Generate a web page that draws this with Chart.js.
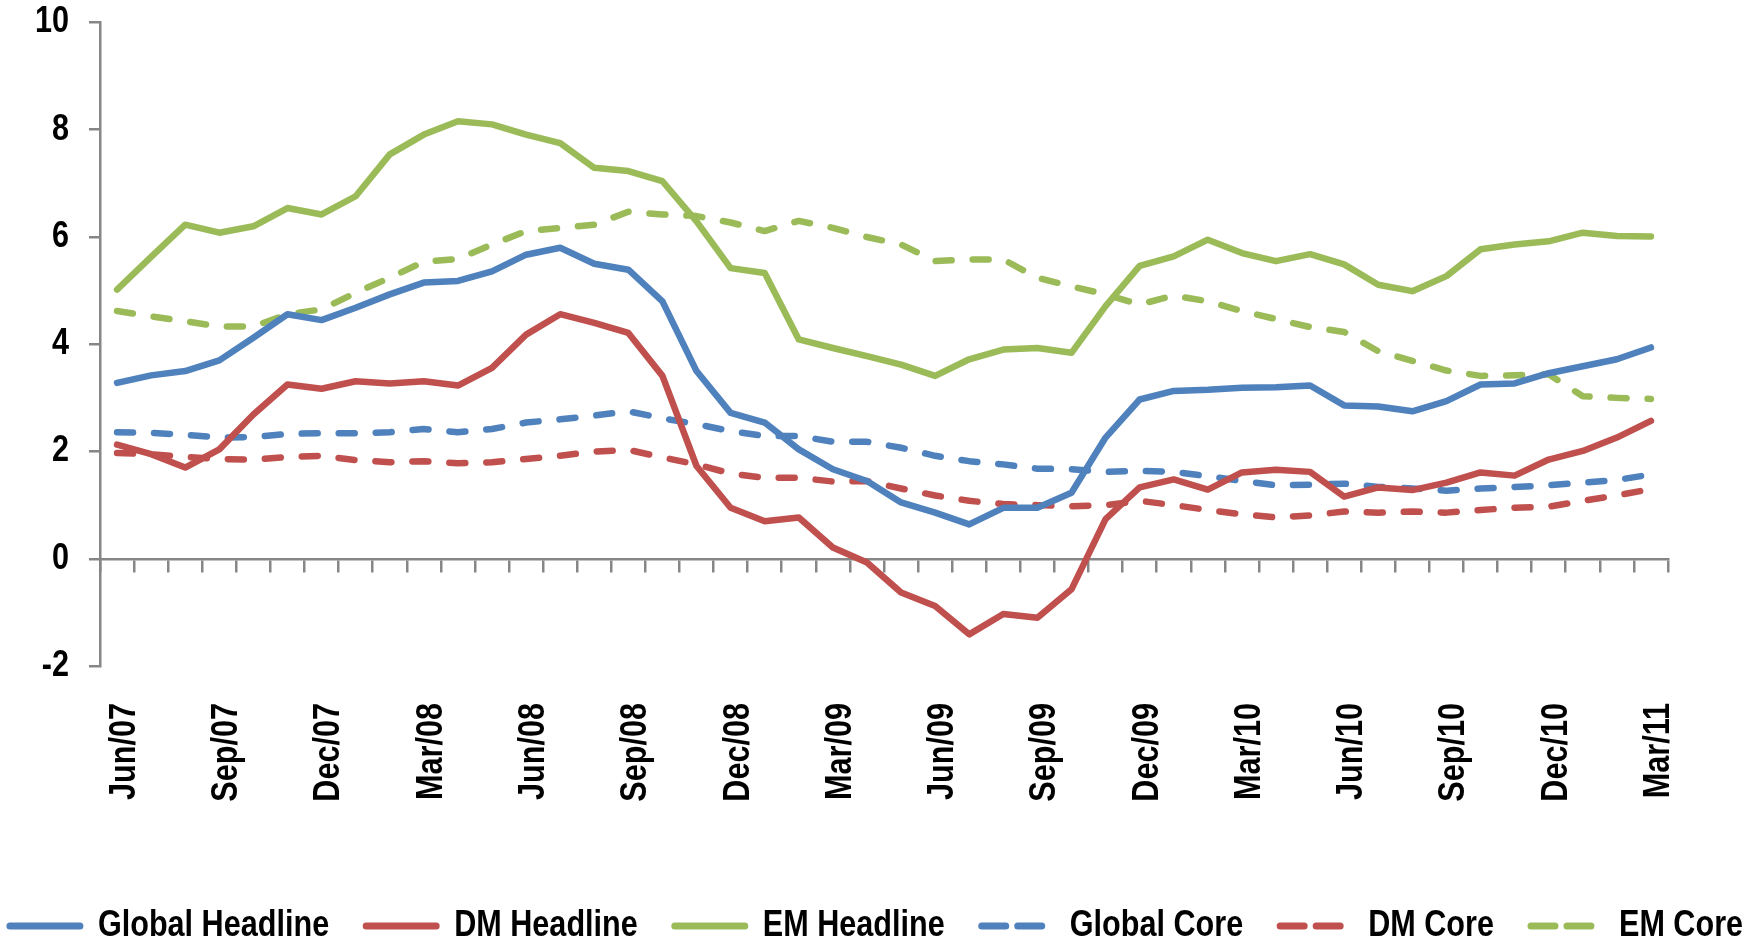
<!DOCTYPE html>
<html><head><meta charset="utf-8">
<script src="https://cdn.jsdelivr.net/npm/chart.js@4.4.1/dist/chart.umd.min.js"></script>
<style>html,body{margin:0;padding:0;background:#fff;overflow:hidden}#wrap{position:relative;width:1753px;height:944px}</style>
</head><body><div id="wrap"><canvas id="c" width="1753" height="944"></canvas></div>
<script>
const months = ['Jun/07','Jul/07','Aug/07','Sep/07','Oct/07','Nov/07','Dec/07',
  'Jan/08','Feb/08','Mar/08','Apr/08','May/08','Jun/08','Jul/08','Aug/08','Sep/08','Oct/08','Nov/08','Dec/08',
  'Jan/09','Feb/09','Mar/09','Apr/09','May/09','Jun/09','Jul/09','Aug/09','Sep/09','Oct/09','Nov/09','Dec/09',
  'Jan/10','Feb/10','Mar/10','Apr/10','May/10','Jun/10','Jul/10','Aug/10','Sep/10','Oct/10','Nov/10','Dec/10',
  'Jan/11','Feb/11','Mar/11'];
const tickLabels = ['Jun/07','Sep/07','Dec/07','Mar/08','Jun/08','Sep/08','Dec/08','Mar/09','Jun/09','Sep/09','Dec/09','Mar/10','Jun/10','Sep/10','Dec/10','Mar/11'];
const yTicks = [-2, 0, 2, 4, 6, 8, 10];

const globalHeadline = [3.28,3.42,3.50,3.70,4.12,4.56,4.45,4.68,4.93,5.15,5.18,5.36,5.67,5.80,5.50,5.39,4.80,3.50,2.72,2.54,2.04,1.67,1.45,1.05,0.86,0.64,0.95,0.95,1.23,2.26,2.97,3.13,3.15,3.19,3.20,3.23,2.86,2.84,2.75,2.94,3.25,3.27,3.46,3.59,3.72,3.94];
const dmHeadline = [2.13,1.95,1.70,2.04,2.69,3.25,3.17,3.31,3.27,3.31,3.23,3.56,4.18,4.56,4.40,4.21,3.41,1.73,0.95,0.70,0.77,0.21,-0.07,-0.63,-0.88,-1.41,-1.03,-1.10,-0.57,0.74,1.33,1.48,1.29,1.61,1.66,1.62,1.16,1.33,1.28,1.42,1.61,1.55,1.85,2.01,2.26,2.57];
const emHeadline = [5.02,5.63,6.23,6.08,6.20,6.54,6.42,6.76,7.54,7.91,8.16,8.10,7.91,7.75,7.29,7.23,7.04,6.29,5.42,5.33,4.09,3.93,3.78,3.62,3.41,3.72,3.90,3.93,3.84,4.71,5.46,5.64,5.95,5.70,5.55,5.68,5.49,5.11,4.99,5.27,5.77,5.86,5.92,6.08,6.02,6.01];
const globalCore = [2.36,2.35,2.31,2.26,2.27,2.33,2.34,2.34,2.36,2.42,2.36,2.42,2.54,2.60,2.67,2.75,2.62,2.51,2.38,2.29,2.29,2.18,2.18,2.07,1.92,1.82,1.76,1.68,1.67,1.62,1.64,1.62,1.54,1.45,1.37,1.38,1.40,1.34,1.31,1.27,1.31,1.34,1.37,1.42,1.47,1.57];
const dmCore = [1.97,1.95,1.90,1.86,1.85,1.90,1.92,1.84,1.80,1.82,1.78,1.80,1.86,1.92,2.00,2.03,1.89,1.76,1.59,1.51,1.51,1.44,1.45,1.31,1.18,1.08,1.02,1.00,0.98,1.00,1.08,1.00,0.91,0.83,0.77,0.81,0.88,0.86,0.88,0.86,0.91,0.95,0.97,1.08,1.18,1.30];
const emCore = [4.62,4.52,4.43,4.33,4.33,4.56,4.65,4.96,5.24,5.54,5.59,5.86,6.11,6.17,6.23,6.47,6.42,6.39,6.27,6.11,6.30,6.17,6.00,5.86,5.55,5.58,5.58,5.24,5.08,4.93,4.74,4.91,4.80,4.62,4.47,4.32,4.23,3.87,3.69,3.51,3.41,3.42,3.44,3.03,3.00,2.98];

const BLUE = '#4F81BD', RED = '#C0504D', GREEN = '#9BBB59', AXIS = '#868686';
const FONT = "'Liberation Sans',Arial,sans-serif";
const FSIZE = 36;
const LINE_DASH = [16, 21];
const LEGEND_DASH = [24, 12, 24, 200];

// narrow (condensed) rendering of the bold sans text, like the original's narrow face
const SX = 0.85;
(function () {
  const P = CanvasRenderingContext2D.prototype;
  const fill = P.fillText, measure = P.measureText;
  P.fillText = function (t, x, y) { this.save(); this.translate(x, y); this.scale(SX, 1); fill.call(this, t, 0, 0); this.restore(); };
  P.measureText = function (t) {
    const m = measure.call(this, t);
    return {width: m.width * SX, actualBoundingBoxAscent: m.actualBoundingBoxAscent, actualBoundingBoxDescent: m.actualBoundingBoxDescent,
      actualBoundingBoxLeft: m.actualBoundingBoxLeft * SX, actualBoundingBoxRight: m.actualBoundingBoxRight * SX};
  };
})();

function ds(label, data, color, dashed) {
  return {label, data, borderColor: color, backgroundColor: color, borderWidth: 6.5,
    borderDash: dashed ? LINE_DASH : [], borderCapStyle: 'round', borderJoinStyle: 'round',
    pointRadius: 0, pointHoverRadius: 0, tension: 0, fill: false, xAxisID: 'x', yAxisID: 'y',
    _legendDash: dashed ? LEGEND_DASH : []};
}

Chart.defaults.font.family = FONT;
Chart.defaults.font.weight = 'bold';
Chart.defaults.font.size = FSIZE;
Chart.defaults.color = '#000';

const chart = new Chart(document.getElementById('c'), {
  type: 'line',
  data: {
    labels: months,
    datasets: [
      ds('Global Headline', globalHeadline, BLUE, false),
      ds('DM Headline', dmHeadline, RED, false),
      ds('EM Headline', emHeadline, GREEN, false),
      ds('Global Core', globalCore, BLUE, true),
      ds('DM Core', dmCore, RED, true),
      ds('EM Core', emCore, GREEN, true)
    ]
  },
  options: {
    responsive: false, animation: false, devicePixelRatio: 1,
    layout: {padding: {top: 0, left: -40, right: -40, bottom: -10}},
    plugins: {
      tooltip: {enabled: false},
      legend: {
        position: 'bottom',
        labels: {
          usePointStyle: true, pointStyle: 'line', pointStyleWidth: 70, boxWidth: 70, padding: 37,
          font: {size: FSIZE, weight: 'bold', family: FONT}, color: '#000',
          generateLabels(ch) {
            return ch.data.datasets.map((d, i) => ({
              text: d.label, fillStyle: d.borderColor, strokeStyle: d.borderColor, fontColor: '#000',
              lineWidth: 7, lineCap: 'round', lineJoin: 'round', lineDash: d._legendDash, lineDashOffset: 0,
              pointStyle: 'line', hidden: false, datasetIndex: i
            }));
          }
        }
      }
    },
    scales: {
      x: {
        type: 'category', position: {y: 0}, offset: true,
        grid: {display: true, offset: true, drawOnChartArea: false, drawTicks: true, tickLength: 12, color: AXIS, lineWidth: 2.5},
        border: {display: true, color: AXIS, width: 2.5},
        ticks: {display: false}
      },
      x2: {
        type: 'category', position: 'bottom', offset: true,
        grid: {display: false, drawTicks: false}, border: {display: false},
        ticks: {autoSkip: false, minRotation: 90, maxRotation: 90, padding: 37, labelOffset: 8, color: '#000',
          font: {size: FSIZE, weight: 'bold', family: FONT},
          callback(v, i) { const l = months[i]; return tickLabels.includes(l) ? l : ''; }},
        afterFit(s) { s.height = 205; }
      },
      y: {
        type: 'linear', position: 'left', min: -2, max: 10,
        afterBuildTicks(s) { s.ticks = yTicks.map(v => ({value: v})); },
        ticks: {color: '#000', padding: 20, font: {size: FSIZE, weight: 'bold', family: FONT}},
        grid: {display: true, drawOnChartArea: false, drawTicks: true, tickLength: 11, color: AXIS, lineWidth: 2.5},
        border: {display: true, color: AXIS, width: 2.5},
        afterFit(s) { s.width = 140; s.paddingTop = 22.5; s.paddingBottom = 0; }
      },
      yR: {
        type: 'linear', position: 'right', display: true,
        grid: {display: false, drawTicks: false}, border: {display: false}, ticks: {display: false},
        afterFit(s) { s.width = 125; s.paddingTop = 0; s.paddingBottom = 0; }
      }
    }
  }
});
</script></body></html>
